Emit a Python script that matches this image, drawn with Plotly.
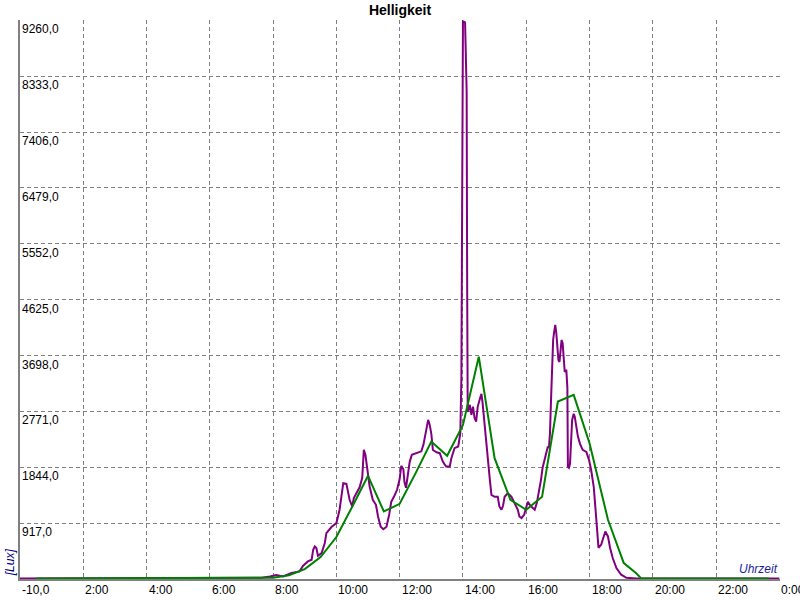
import plotly.graph_objects as go

# ---- data ----
lux_times = ["0:00", "7:28", "7:38", "7:54", "8:06", "8:19", "8:35", "8:50", "8:57", "9:06",
             "9:13", "9:16", "9:19", "9:22", "9:25", "9:32", "9:38", "9:41", "9:51", "10:00",
             "10:06", "10:13", "10:19", "10:25", "10:30", "10:33", "10:38", "10:44", "10:49", "10:52",
             "10:55", "10:57", "11:00", "11:03", "11:09", "11:15", "11:19", "11:24", "11:29", "11:35",
             "11:40", "11:44", "11:50", "11:55", "12:00", "12:03", "12:07", "12:09", "12:12", "12:16",
             "12:19", "12:23", "12:32", "12:41", "12:45", "12:50", "12:54", "12:57", "13:00", "13:03",
             "13:10", "13:16", "13:22", "13:28", "13:35", "13:38", "13:44", "13:51", "13:55", "13:57",
             "13:58", "14:00", "14:04", "14:05", "14:07", "14:08", "14:09", "14:13", "14:16", "14:19",
             "14:22", "14:25", "14:28", "14:32", "14:35", "14:37", "14:40", "14:43", "14:47", "14:51",
             "14:54", "15:00", "15:06", "15:09", "15:13", "15:16", "15:19", "15:25", "15:32", "15:38",
             "15:44", "15:47", "15:51", "15:56", "16:00", "16:03", "16:08", "16:16", "16:20", "16:24",
             "16:28", "16:31", "16:35", "16:38", "16:41", "16:43", "16:45", "16:47", "16:49", "16:51",
             "16:53", "16:55", "16:57", "16:59", "17:01", "17:03", "17:05", "17:07", "17:09", "17:11",
             "17:13", "17:16", "17:18", "17:19", "17:21", "17:23", "17:25", "17:27", "17:30", "17:32",
             "17:35", "17:38", "17:42", "17:47", "17:54", "17:59", "18:03", "18:08", "18:11", "18:14",
             "18:17", "18:22", "18:27", "18:30", "18:35", "18:39", "18:44", "18:51", "19:00", "19:10",
             "19:29", "24:00"]
lux_values = [0, 0, 10, 33, 56, 33, 89, 116, 210, 282,
              310, 476, 530, 504, 376, 421, 587, 752, 857, 918,
              1139, 1581, 1570, 1304, 1193, 1332, 1415, 1512, 1669, 2133,
              2050, 1918, 1802, 1525, 1304, 1221, 1023, 857, 815, 857,
              1056, 1271, 1371, 1470, 1652, 1868, 1810, 1603, 1503, 1752,
              1934, 2050, 2078, 2108, 2216, 2431, 2630, 2547, 2398, 2130,
              2092, 2078, 1934, 1856, 1856, 1995, 2161, 2188, 2410, 3326,
              5365, 9243, 9226, 8663, 8083, 4801, 2762, 2879, 2713, 2851,
              2663, 2602, 2851, 2978, 3061, 2929, 2630, 2299, 1967, 1636,
              1387, 1354, 1354, 1193, 1139, 1205, 1354, 1415, 1354, 1250,
              1139, 1027, 1001, 1056, 1193, 1271, 1205, 1139, 1250, 1415,
              1636, 1835, 2000, 2100, 2188, 2166, 2410, 2962, 3514, 3956,
              4094, 4205, 4072, 3873, 3624, 3591, 3790, 3956, 3901, 3624,
              3426, 3459, 3161, 1852, 1835, 1901, 2299, 2630, 2730, 2680,
              2519, 2353, 2232, 2133, 2100, 1967, 1802, 1520, 1188, 857,
              508, 558, 696, 779, 696, 504, 338, 172, 61, 10,
              0, 0]

avg_times = ["0:30", "7:30", "8:00", "8:30", "9:00", "9:30", "10:00", "10:30", "11:00", "11:30",
             "12:00", "12:30", "13:00", "13:30", "14:00", "14:30", "15:00", "15:30", "16:00", "16:30",
             "17:00", "17:30", "18:00", "18:35", "19:05", "19:28", "19:38", "23:40"]
avg_values = [0, 0, 10, 53, 155, 355, 686, 1190, 1702, 1110,
              1238, 1743, 2271, 2034, 2547, 3679, 1995, 1304, 1139, 1354,
              2934, 3045, 2244, 973, 255, 90, 0, 0]

y_ticks = [917, 1844, 2771, 3698, 4625, 5552, 6479, 7406, 8333, 9260]
y_min = -10
x_tick_hours = [2, 4, 6, 8, 10, 12, 14, 16, 18, 20, 22, 24]
title_text = "Helligkeit"
y_unit = "[Lux]"
x_name = "Uhrzeit"


def to_hours(s):
    h, m = s.split(":")
    return int(h) + int(m) / 60.0


FONT = "Liberation Sans, Arial, sans-serif"

fig = go.Figure()
fig.add_trace(go.Scatter(x=[to_hours(t) for t in lux_times], y=lux_values, mode="lines",
                         line=dict(color="#800080", width=2), hoverinfo="skip"))
fig.add_trace(go.Scatter(x=[to_hours(t) for t in avg_times], y=avg_values, mode="lines",
                         line=dict(color="#008000", width=2), hoverinfo="skip"))

annotations = []
# y tick labels (inside plot, below each gridline, left aligned)
for v in y_ticks:
    annotations.append(dict(xref="paper", yref="y", x=0, y=v, xanchor="left", yanchor="top",
                            text=f"{v:.1f}".replace(".", ","), showarrow=False, yshift=0,
                            font=dict(family=FONT, size=12, color="black")))
# x tick labels (left aligned at each tick)
annotations.append(dict(xref="x", yref="paper", x=0, y=0, xanchor="left", yanchor="top",
                        text=f"{y_min:.1f}".replace(".", ","), showarrow=False, yshift=-2,
                        font=dict(family=FONT, size=12, color="black")))
for h in x_tick_hours:
    annotations.append(dict(xref="x", yref="paper", x=h, y=0, xanchor="left", yanchor="top",
                            text=f"{h % 24}:00", showarrow=False, yshift=-2,
                            font=dict(family=FONT, size=12, color="black")))
annotations.append(dict(xref="paper", yref="paper", x=1, y=0, xanchor="right", yanchor="bottom",
                        text=f"<i>{x_name}</i>", showarrow=False, yshift=1,
                        font=dict(family=FONT, size=12, color="#1c1ca0")))
annotations.append(dict(xref="paper", yref="paper", x=-0.0138, y=0.029, xanchor="center",
                        yanchor="middle", textangle=-90, text=f"<i>{y_unit}</i>", showarrow=False,
                        font=dict(family=FONT, size=12, color="#000080")))

fig.update_layout(
    width=800, height=600, autosize=False,
    margin=dict(l=20, r=20, t=20, b=21),
    paper_bgcolor="white", plot_bgcolor="white",
    showlegend=False,
    title=dict(text=title_text, x=0.5, xanchor="center", y=1 - 10 / 600, yanchor="middle",
               font=dict(family=FONT, size=14, color="black", weight="bold")),
    annotations=annotations,
    xaxis=dict(range=[0, 24.02], tickvals=x_tick_hours, showticklabels=False, ticks="",
               showgrid=True, gridcolor="#808080", gridwidth=1, griddash="4px,3px",
               zeroline=False, showline=True, linecolor="#808080", linewidth=2),
    yaxis=dict(range=[y_min, 9265], tickvals=y_ticks, showticklabels=False, ticks="",
               showgrid=True, gridcolor="#808080", gridwidth=1, griddash="4px,3px",
               zeroline=False, showline=True, linecolor="#808080", linewidth=2),
)

fig.write_html("out.html", config={"displayModeBar": False},
               post_script="document.body.style.margin='0';document.body.style.overflow='hidden';")
